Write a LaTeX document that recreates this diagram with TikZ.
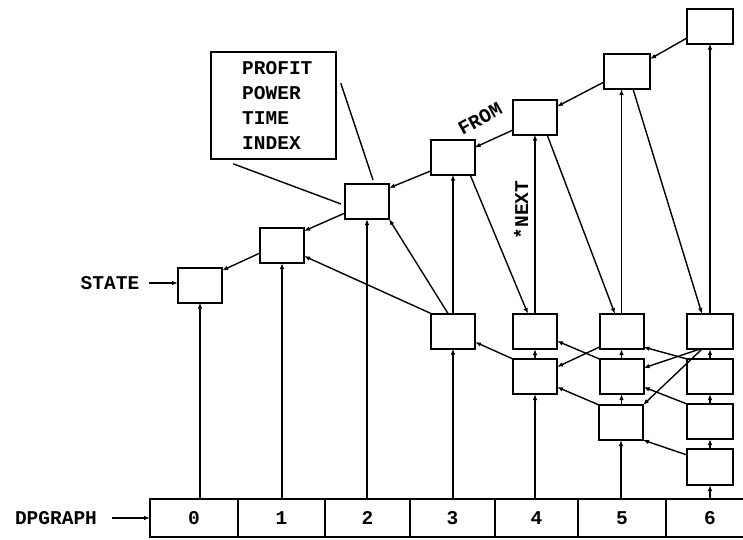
\documentclass[tikz,border=0pt]{standalone}
\usepackage{fontspec}
\setmonofont{Liberation Mono}
\usetikzlibrary{arrows.meta}
\newcommand{\dptext}{\ttfamily\bfseries\fontsize{19.5}{25}\selectfont}
\begin{document}
\begin{tikzpicture}[x=1pt,y=-1pt,
  bx/.style={draw, line width=2pt, minimum width=44pt, minimum height=35pt, inner sep=0pt, outer sep=0pt},
  cell/.style={draw, line width=1.6pt, minimum height=38pt, inner sep=0pt, outer sep=0pt, font=\dptext},
  arr/.style={line width=1.4pt, -{Latex[length=6pt,width=4.5pt]}},
  ln/.style={line width=1.4pt},
  lbl/.style={font=\dptext, inner sep=0pt}
]
\useasboundingbox (0,0) rectangle (743,539);

% state boxes
\node[bx] (s0) at (200,285) {};
\node[bx] (s1) at (282,245.5) {};
\node[bx] (s2) at (367,201.5) {};
\node[bx] (s3) at (452.5,157) {};
\node[bx] (s4) at (535,117) {};
\node[bx, minimum width=46pt] (s5) at (627,71.5) {};
\node[bx, minimum width=46pt] (s6) at (710,26) {};
\node[bx] (l3) at (453,331) {};
\node[bx] (a4) at (535,331.5) {};
\node[bx] (b4) at (535,376.5) {};
\node[bx] (a5) at (621.5,331.5) {};
\node[bx] (b5) at (621.5,376.5) {};
\node[bx] (c5) at (621,422.5) {};
\node[bx, minimum width=46pt] (a6) at (710,331.5) {};
\node[bx, minimum width=46pt] (b6) at (710,376.5) {};
\node[bx, minimum width=46pt] (c6) at (710,421.5) {};
\node[bx, minimum width=46pt, minimum height=36pt] (d6) at (710,467) {};

% DPGRAPH array
\node[cell, minimum width=88pt] (g0) at (194,518) {0};
\node[cell, minimum width=87pt] (g1) at (281.5,518) {1};
\node[cell, minimum width=85pt] (g2) at (367.5,518) {2};
\node[cell, minimum width=85pt] (g3) at (452.5,518) {3};
\node[cell, minimum width=83pt] (g4) at (536.5,518) {4};
\node[cell, minimum width=88pt] (g5) at (622,518) {5};
\node[cell, minimum width=88pt] (g6) at (710,518) {6};

% array pointers
\draw[arr] (s0.south |- g0.north) -- (s0.south);
\draw[arr] (s1.south |- g1.north) -- (s1.south);
\draw[arr] (s2.south |- g2.north) -- (s2.south);
\draw[arr] (l3.south |- g3.north) -- (l3.south);
\draw[arr] (b4.south |- g4.north) -- (b4.south);
\draw[arr] (c5.south |- g5.north) -- (c5.south);
\draw[arr] (d6.south |- g6.north) -- (d6.south);

% NEXT chains
\draw[arr] (l3.north) -- (l3.north |- s3.south);
\draw[arr] (b4.north) -- (a4.south);
\draw[arr] (a4.north) -- (s4.south);
\draw[arr] (b5.south |- c5.north) -- (b5.south);
\draw[arr] (b5.north) -- (a5.south);
\draw[arr] (a5.north) -- (a5.north |- s5.south);
\draw[arr] (d6.north) -- (c6.south);
\draw[arr] (c6.north) -- (b6.south);
\draw[arr] (b6.north) -- (a6.south);
\draw[arr] (a6.north) -- (s6.south);

% FROM chain (top)
\draw[arr] ([yshift=-7.5pt]s1.west) -- ([yshift=-3pt]s0.north east);
\draw[arr] ([yshift=-11.5pt]s2.west) -- ([yshift=-3pt]s1.north east);
\draw[arr] ([yshift=-14pt]s3.west) -- ([yshift=-4pt]s2.north east);
\draw[arr] ([yshift=-13pt]s4.west) -- ([yshift=-8pt]s3.north east);
\draw[arr] ([yshift=-10.5pt]s5.west) -- ([yshift=-7pt]s4.north east);
\draw[arr] ([yshift=-12pt]s6.west) -- ([yshift=-5pt]s5.north east);

% diagonals
\draw[arr] ([xshift=-5pt]l3.north) -- (s2.south east);
\draw[arr] (l3.north west) -- ([yshift=-10.5pt]s1.east);
\draw[arr] ([xshift=17.5pt]s3.south) -- ([xshift=-7pt]a4.north);
\draw[arr] ([xshift=12pt]s4.south) -- ([xshift=-6.5pt]a5.north);
\draw[arr] ([xshift=6pt]s5.south) -- ([xshift=-8pt]a6.north);
\draw[arr] (b4.north west) -- ([yshift=-11pt]l3.east);
\draw[arr] (b5.north west) -- ([yshift=-9.5pt]a4.east);
\draw[arr] ([yshift=2pt]a5.south west) -- ([yshift=9.5pt]b4.east);
\draw[arr] (c5.north west) -- ([yshift=-10.5pt]b4.east);
\draw[arr] (b6.north west) -- ([yshift=-15.5pt]a5.east);
\draw[arr] ([xshift=-10pt]a6.south) -- ([yshift=8.5pt]b5.east);
\draw[arr] (c6.north west) -- ([yshift=-10.5pt]b5.east);
\draw[arr] ([xshift=-8pt]a6.south) -- (c5.north east);
\draw[arr] ([yshift=-6pt]d6.north west) -- (c5.south east);

% labels
\node[lbl] (stlab) at (110,283) {STATE};
\draw[arr] ([xshift=10pt]stlab.east) -- (stlab.east -| s0.west);
\node[lbl] (dplab) at (56,518) {DPGRAPH};
\draw[arr] ([xshift=15pt]dplab.east) -- (g0.west);
\node[lbl, rotate=29] (fromlab) at (480,119) {FROM};
\node[lbl, rotate=90] (nextlab) at (521,210) {*NEXT};

% annotation box
\node[draw, line width=1.6pt, minimum width=125pt, minimum height=107pt, inner sep=0pt] (ann) at (273.5,105.5) {};
\node[lbl, align=left, anchor=west] (anntext) at (242,105.5) {PROFIT\\POWER\\TIME\\INDEX};
\draw[ln] ([shift={(23pt,-4pt)}]ann.south west) -- ([shift={(-4pt,-2.5pt)}]s2.west);
\draw[ln] ([shift={(4pt,-32pt)}]ann.north east) -- ([shift={(6pt,4pt)}]s2.north);
\end{tikzpicture}
\end{document}
